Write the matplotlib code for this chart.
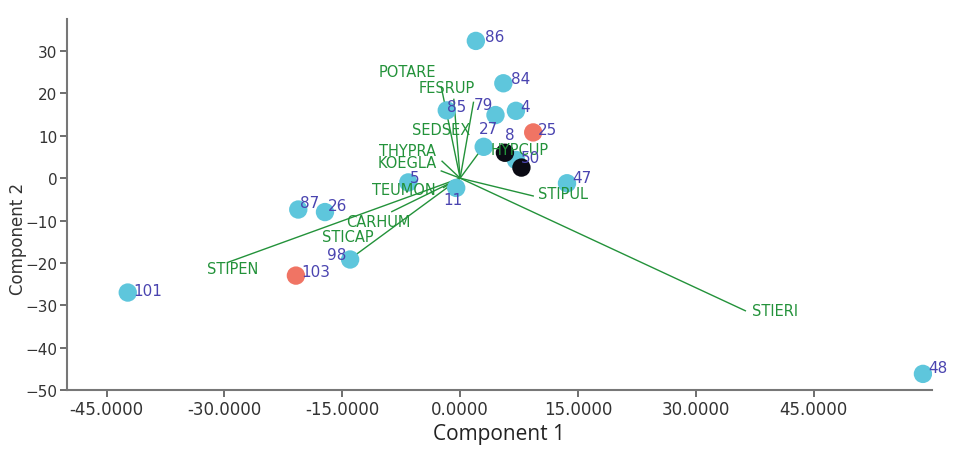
import numpy as np
import matplotlib.pyplot as plt

# sample scores on the first two components
sample_ids = ['86', '84', '85', '79', '4', '27', '25', '8', '50', '', '47',
              '5', '11', '87', '26', '98', '103', '101', '48']
comp1 = [2.0, 5.5, -1.7, 4.5, 7.1, 3.0, 9.3, 5.7, 7.1, 7.8, 13.6,
         -6.6, -0.5, -20.6, -17.2, -14.0, -20.9, -42.3, 58.9]
comp2 = [32.4, 22.4, 16.0, 14.9, 15.9, 7.4, 10.8, 6.0, 4.3, 2.5, -1.2,
         -1.0, -2.3, -7.4, -8.0, -19.2, -23.0, -27.0, -46.2]
groups = ['c', 'c', 'c', 'c', 'c', 'c', 'r', 'k', 'c', 'k', 'c',
          'c', 'c', 'c', 'c', 'c', 'r', 'c', 'c']

# species loadings (biplot arrows)
species = ['POTARE', 'FESRUP', 'SEDSEX', 'HYPCUP', 'THYPRA', 'KOEGLA',
           'TEUMON', 'CARHUM', 'STICAP', 'STIPEN', 'STIERI', 'STIPUL']
load1 = [-2.4, -0.8, 1.7, 2.9, -2.3, -2.4, -2.1, -8.7, -13.3, -29.6, 36.3, 9.3]
load2 = [21.5, 18.6, 17.9, 7.3, 4.0, 1.7, -2.2, -7.9, -18.1, -19.9, -31.3, -4.2]

group_colors = {'c': '#5ec6dc', 'r': '#f07464', 'k': '#0a0a14'}
label_color = '#4a44b0'
green = '#23923a'

# label offsets in pixels (dx right, dy down)
sample_off = {'86': (9, -4), '84': (8, -5), '85': (0, -4), '79': (-22, -11),
              '4': (4, -4), '27': (-5, -18), '25': (5, -3), '8': (0, -18),
              '50': (5, -2), '47': (5, -6), '5': (2, -5), '11': (-13, 12),
              '87': (2, -7), '26': (3, -7), '98': (-23, -5), '103': (5, -4),
              '101': (6, -2), '48': (5, -6)}
species_off = {'POTARE': (-34, -16), 'FESRUP': (-7, -12), 'SEDSEX': (-32, 27),
               'HYPCUP': (37, 2), 'THYPRA': (-35, -11), 'KOEGLA': (-34, -8),
               'TEUMON': (-40, 2), 'CARHUM': (-13, 10), 'STICAP': (-8, -18),
               'STIPEN': (5, 6), 'STIERI': (30, 0), 'STIPUL': (30, -2)}
px = 0.72  # points per pixel at dpi 100

fig = plt.figure(figsize=(9.54, 4.52), dpi=100)
ax = fig.add_axes([0.0705, 0.135, 0.906, 0.821])

for name, a, b in zip(species, load1, load2):
    ax.plot([0, a], [0, b], color=green, lw=1.0, zorder=2)

order = [i for i, g in enumerate(groups) if g != 'k'] + \
        [i for i, g in enumerate(groups) if g == 'k']
ax.scatter(np.array(comp1)[order], np.array(comp2)[order],
           c=[group_colors[groups[i]] for i in order], s=175,
           linewidths=0, zorder=3)

for sid, a, b in zip(sample_ids, comp1, comp2):
    if not sid:
        continue
    dx, dy = sample_off[sid]
    ax.annotate(sid, (a, b), xytext=(dx * px, -dy * px), textcoords='offset points',
                ha='left', va='center', fontsize=11, color=label_color, zorder=5)

for name, a, b in zip(species, load1, load2):
    dx, dy = species_off[name]
    ax.annotate(name, (a, b), xytext=(dx * px, -dy * px), textcoords='offset points',
                ha='center', va='center', fontsize=10.5, color=green, zorder=4)

ax.set_xlim(-50, 60)
ax.set_ylim(-50, 37.6)
ax.set_xticks(np.arange(-45, 46, 15))
ax.set_xticklabels([f'{v:.4f}' for v in np.arange(-45, 46, 15)], fontsize=12)
ax.set_yticks(np.arange(-50, 31, 10))
for lbl in ax.get_yticklabels():
    lbl.set_fontsize(11)
ax.tick_params(colors='#555555', length=5, width=1.2, direction='out', pad=2)
ax.tick_params(axis='both', labelcolor='#333333')

for side in ['top', 'right']:
    ax.spines[side].set_visible(False)
for side in ['left', 'bottom']:
    ax.spines[side].set_color('#777777')
    ax.spines[side].set_linewidth(1.5)

ax.set_xlabel('Component 1', fontsize=15, family=['Open Sans', 'DejaVu Sans'],
              color='#222222', labelpad=4)
ax.set_ylabel('Component 2', fontsize=12, color='#333333')
ax.yaxis.set_label_coords(-0.046, 0.41)

fig.savefig('out.png', dpi=100)
